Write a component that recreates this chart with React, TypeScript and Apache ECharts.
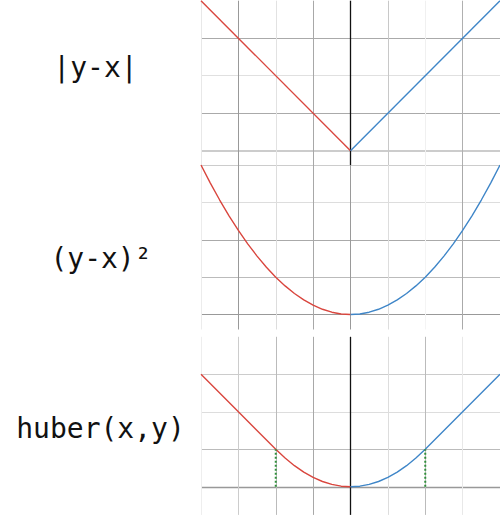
import React, { useEffect, useRef } from "react";
import * as echarts from "echarts";

// ---- data ----
const X_TICKS = [-4, -3, -2, -1, 0, 1, 2, 3, 4];
const Y_TICKS = [0, 1, 2, 3, 4];
const LABELS = ["|y-x|", "(y-x)²", "huber(x,y)"];

const ABS_X_LEFT = [-4, 0];
const ABS_Y_LEFT = [4, 0];
const ABS_X_RIGHT = [0, 4];
const ABS_Y_RIGHT = [0, 4];

const SQ_X_LEFT = [-4, -3.75, -3.5, -3.25, -3, -2.75, -2.5, -2.25, -2, -1.75, -1.5, -1.25, -1, -0.75, -0.5, -0.25, 0];
const SQ_Y_LEFT = [4, 3.516, 3.063, 2.641, 2.25, 1.891, 1.563, 1.266, 1, 0.766, 0.563, 0.391, 0.25, 0.141, 0.063, 0.016, 0];
const SQ_X_RIGHT = [0, 0.25, 0.5, 0.75, 1, 1.25, 1.5, 1.75, 2, 2.25, 2.5, 2.75, 3, 3.25, 3.5, 3.75, 4];
const SQ_Y_RIGHT = [0, 0.016, 0.063, 0.141, 0.25, 0.391, 0.563, 0.766, 1, 1.266, 1.563, 1.891, 2.25, 2.641, 3.063, 3.516, 4];

const HUB_X_LEFT = [-4, -3, -2, -1.75, -1.5, -1.25, -1, -0.75, -0.5, -0.25, 0];
const HUB_Y_LEFT = [3, 2, 1, 0.766, 0.563, 0.391, 0.25, 0.141, 0.063, 0.016, 0];
const HUB_X_RIGHT = [0, 0.25, 0.5, 0.75, 1, 1.25, 1.5, 1.75, 2, 3, 4];
const HUB_Y_RIGHT = [0, 0.016, 0.063, 0.141, 0.25, 0.391, 0.563, 0.766, 1, 2, 3];

const HUBER_BREAKS = [-2, 2];
const HUBER_BREAK_VALUE = 1;

// ---- styles ----
const RED = "#d9463e";
const BLUE = "#3f86c8";
const GREEN = "#2f8f3a";
const NONE = "rgba(0,0,0,0)";
// per-panel gridline colours, indexed like X_TICKS / Y_TICKS
const V_COLORS = [
  ["#e8e8e8", "#999999", "#e2e2e2", "#a8a8a8", "#111111", "#c8c8c8", "#f0f0f0", "#b0b0b0", NONE],
  ["#ececec", "#999999", "#dddddd", "#a8a8a8", "#9a9a9a", "#dddddd", "#f4f4f4", "#aaaaaa", NONE],
  ["#eeeeee", "#cccccc", "#bbbbbb", "#a8a8a8", "#111111", "#dddddd", "#bbbbbb", "#e8e8e8", NONE],
];
const H_COLORS = [
  ["#bbbbbb", "#aaaaaa", "#e0e0e0", "#aaaaaa", NONE],
  ["#999999", "#bbbbbb", "#aaaaaa", "#dddddd", "#cccccc"],
  ["#999999", "#bbbbbb", "#dddddd", "#cccccc", NONE],
];
const H_WIDTHS = [
  [1.6, 1, 1, 1, 1],
  [1.2, 1, 1, 1, 1],
  [1.4, 1, 1, 1, 1],
];
const GRIDS = [
  { left: 201, top: 0.7, width: 300, height: 165, yMin: -0.4 },
  { left: 201, top: 165, width: 300, height: 164.5, yMin: -0.4 },
  { left: 201, top: 336.8, width: 300, height: 178.1, yMin: -0.75 },
];
const LABEL_POS = [
  { x: 95.5, y: 67.3, size: 28 },
  { x: 101, y: 258.3, size: 28 },
  { x: 100.5, y: 428, size: 28 },
];

const zip = (xs: number[], ys: number[]) => xs.map((x, i) => [x, ys[i]]);

export default function App() {
  const ref = useRef<HTMLDivElement>(null);

  useEffect(() => {
    if (!ref.current) return;
    const chart = echarts.init(ref.current, undefined, { renderer: "svg" });

    const curves = [
      [zip(ABS_X_LEFT, ABS_Y_LEFT), zip(ABS_X_RIGHT, ABS_Y_RIGHT)],
      [zip(SQ_X_LEFT, SQ_Y_LEFT), zip(SQ_X_RIGHT, SQ_Y_RIGHT)],
      [zip(HUB_X_LEFT, HUB_Y_LEFT), zip(HUB_X_RIGHT, HUB_Y_RIGHT)],
    ];

    const series: any[] = [];
    GRIDS.forEach((g, i) => {
      const mlData: any[] = [];
      Y_TICKS.forEach((v, k) => {
        mlData.push({ yAxis: v, lineStyle: { color: H_COLORS[i][k], width: H_WIDTHS[i][k], type: "solid" } });
      });
      X_TICKS.forEach((v, k) => {
        mlData.push({
          xAxis: v,
          lineStyle: { color: V_COLORS[i][k], width: v === 0 && V_COLORS[i][k] === "#111111" ? 1.3 : 1, type: "solid" },
        });
      });
      series.push({
        type: "line",
        xAxisIndex: i,
        yAxisIndex: i,
        data: [],
        z: 1,
        silent: true,
        markLine: {
          z: 1,
          silent: true,
          symbol: ["none", "none"],
          label: { show: false },
          emphasis: { disabled: true },
          animation: false,
          data: mlData,
        },
      });
      const [left, right] = curves[i];
      [
        { d: left, c: RED },
        { d: right, c: BLUE },
      ].forEach((s) => {
        series.push({
          type: "line",
          xAxisIndex: i,
          yAxisIndex: i,
          data: s.d,
          z: 3,
          showSymbol: false,
          symbol: "none",
          smooth: false,
          silent: true,
          lineStyle: { color: s.c, width: 1.4 },
        });
      });
    });
    HUBER_BREAKS.forEach((b) => {
      series.push({
        type: "line",
        xAxisIndex: 2,
        yAxisIndex: 2,
        data: [
          [b, 0],
          [b, HUBER_BREAK_VALUE],
        ],
        z: 4,
        symbol: "none",
        silent: true,
        lineStyle: { color: GREEN, width: 2, type: [2, 2] },
      });
    });

    chart.setOption({
      animation: false,
      backgroundColor: "#ffffff",
      grid: GRIDS.map((g) => ({ left: g.left, top: g.top, width: g.width, height: g.height, containLabel: false })),
      xAxis: GRIDS.map((g, i) => ({ type: "value", gridIndex: i, min: -4, max: 4, show: false })),
      yAxis: GRIDS.map((g, i) => ({ type: "value", gridIndex: i, min: g.yMin, max: 4, show: false })),
      graphic: LABELS.map((t, i) => ({
        type: "text",
        x: LABEL_POS[i].x,
        y: LABEL_POS[i].y,
        silent: true,
        style: {
          text: t,
          fill: "#111111",
          font: `${LABEL_POS[i].size}px "DejaVu Sans Mono"`,
          textAlign: "center",
          textVerticalAlign: "middle",
        },
      })),
      series,
    });

    return () => chart.dispose();
  }, []);

  return (
    <div
      ref={ref}
      style={{ position: "absolute", left: 0, top: 0, width: 500, height: 530, background: "#fff" }}
    />
  );
}
